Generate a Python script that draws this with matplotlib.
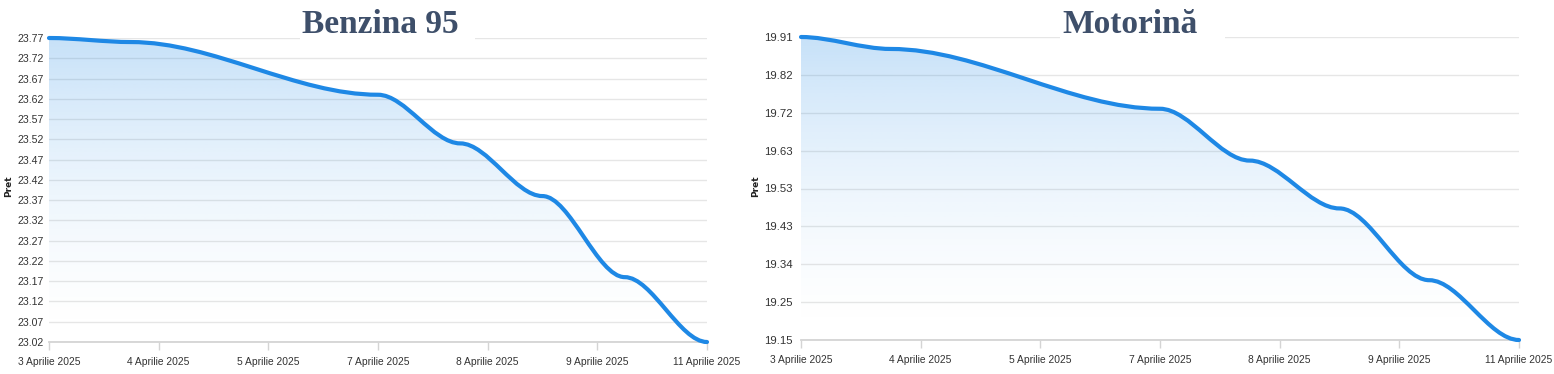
import numpy as np
import matplotlib
matplotlib.use('Agg')
import matplotlib.pyplot as plt
from matplotlib.path import Path
from matplotlib.patches import PathPatch, Rectangle

# ---------------- data ----------------
days = [3, 4, 7, 8, 9, 10, 11]          # April 2025 (no data on the weekend 5-6)
benzina_values = [23.77, 23.76, 23.63, 23.51, 23.38, 23.18, 23.02]
motorina_values = [19.91, 19.88, 19.73, 19.60, 19.48, 19.30, 19.15]

tick_labels = ['3 Aprilie 2025', '4 Aprilie 2025', '5 Aprilie 2025', '7 Aprilie 2025',
               '8 Aprilie 2025', '9 Aprilie 2025', '11 Aprilie 2025']

benzina_yticks = [23.02, 23.07, 23.12, 23.17, 23.22, 23.27, 23.32, 23.37, 23.42,
                  23.47, 23.52, 23.57, 23.62, 23.67, 23.72, 23.77]
motorina_yticks = [19.15, 19.245, 19.34, 19.435, 19.53, 19.625, 19.72, 19.815, 19.91]
motorina_ylabels = ['19.15', '19.25', '19.34', '19.43', '19.53', '19.63', '19.72', '19.82', '19.91']

titles = ['Benzina 95', 'Motorină']

# ---------------- style ----------------
W, H = 1554, 374
LINE_COLOR = '#1e88e5'
GRID_COLOR = '#e6e6e6'
TITLE_COLOR = '#3e4f6a'
LABEL_COLOR = '#333333'
TICK_FONT = ['Liberation Sans', 'DejaVu Sans']
HANDLE = 0.33

fig = plt.figure(figsize=(W / 100, H / 100), dpi=100)


def px_axes(x0, y0, x1, y1):
    return fig.add_axes([x0 / W, 1 - y1 / H, (x1 - x0) / W, (y1 - y0) / H])


def bump_path(xs, ys):
    """Smooth curve with horizontal tangent at every data point."""
    verts = [(xs[0], ys[0])]
    codes = [Path.MOVETO]
    for i in range(1, len(xs)):
        dx = xs[i] - xs[i - 1]
        verts += [(xs[i - 1] + HANDLE * dx, ys[i - 1]),
                  (xs[i] - HANDLE * dx, ys[i]), (xs[i], ys[i])]
        codes += [Path.CURVE4] * 3
    return verts, codes


def draw_panel(ax, values, yticks, ylabels, ylab_size, ypad, xlab_size):
    xs = np.array(days, dtype=float)
    ys = np.array(values, dtype=float)
    ymin, ymax = min(yticks), max(yticks)
    xmin, xmax = xs[0], xs[-1]

    verts, codes = bump_path(xs, ys)
    line_path = Path(verts, codes)
    a_verts = verts + [(xmax, ymin), (xmin, ymin), (xmin, ys[0])]
    a_codes = codes + [Path.LINETO, Path.LINETO, Path.CLOSEPOLY]
    area = PathPatch(Path(a_verts, a_codes), fc='none', ec='none', transform=ax.transData)
    ax.add_patch(area)

    rgb = np.array(matplotlib.colors.to_rgb(LINE_COLOR))
    t = np.linspace(1, 0, 256)
    alpha = 0.25 * t ** 1.6
    img = np.zeros((256, 1, 4))
    img[:, 0, :3] = rgb
    img[:, 0, 3] = alpha
    im = ax.imshow(img, extent=(xmin, xmax, ymin, ymax), aspect='auto',
                   origin='upper', zorder=1, interpolation='bilinear')
    im.set_clip_path(area)

    ax.add_patch(PathPatch(line_path, fc='none', ec=LINE_COLOR, lw=3.0,
                           capstyle='round', joinstyle='round', zorder=3,
                           clip_on=False, transform=ax.transData))

    ax.set_xlim(xmin, xmax)
    ax.set_ylim(ymin, ymax)

    ax.set_yticks(yticks)
    ax.set_yticklabels(ylabels, family=TICK_FONT, fontsize=ylab_size, color=LABEL_COLOR)
    ax.set_xticks(np.linspace(xmin, xmax, len(tick_labels)))
    ax.set_xticklabels(tick_labels, family=TICK_FONT, fontsize=xlab_size, color=LABEL_COLOR)

    ax.yaxis.grid(True, color=GRID_COLOR, lw=1.0)
    ax.set_axisbelow(True)
    for sp in ['left', 'right', 'top']:
        ax.spines[sp].set_visible(False)
    ax.spines['bottom'].set_color('#d4d4d4')
    ax.spines['bottom'].set_linewidth(1.3)
    ax.tick_params(axis='y', length=0, pad=ypad)
    ax.tick_params(axis='x', length=6, width=1, color='#d4d4d4', pad=4.5)


ax1 = px_axes(49, 38, 707, 342)
draw_panel(ax1, benzina_values, benzina_yticks, [f'{v:.2f}' for v in benzina_yticks],
           7.6, 4.0, 7.4)

ax2 = px_axes(801, 37, 1519, 340)
draw_panel(ax2, motorina_values, motorina_yticks, motorina_ylabels, 8.2, 6.0, 7.4)

fig.patches.append(Rectangle((300 / W, 1 - 41 / H), 175 / W, 41 / H, fc='white', ec='none',
                             transform=fig.transFigure, figure=fig, zorder=5))
fig.patches.append(Rectangle((1060 / W, 1 - 40 / H), 165 / W, 40 / H, fc='white', ec='none',
                             transform=fig.transFigure, figure=fig, zorder=5))

fig.text(380 / W, 1 - 33 / H, titles[0], family=['Liberation Serif', 'DejaVu Serif'],
         weight='bold', fontsize=24, color=TITLE_COLOR, ha='center', va='baseline', zorder=6)
fig.text(1130 / W, 1 - 33 / H, titles[1], family=['Liberation Serif', 'DejaVu Serif'],
         weight='bold', fontsize=24, color=TITLE_COLOR, ha='center', va='baseline', zorder=6)

fig.text(9 / W, 1 - 186 / H, 'Pret', rotation=90, fontsize=6.5, weight='bold',
         color='#222222', ha='center', va='center')
fig.text(756 / W, 1 - 186 / H, 'Pret', rotation=90, fontsize=6.5, weight='bold',
         color='#222222', ha='center', va='center')

fig.savefig('out.png', dpi=100)
